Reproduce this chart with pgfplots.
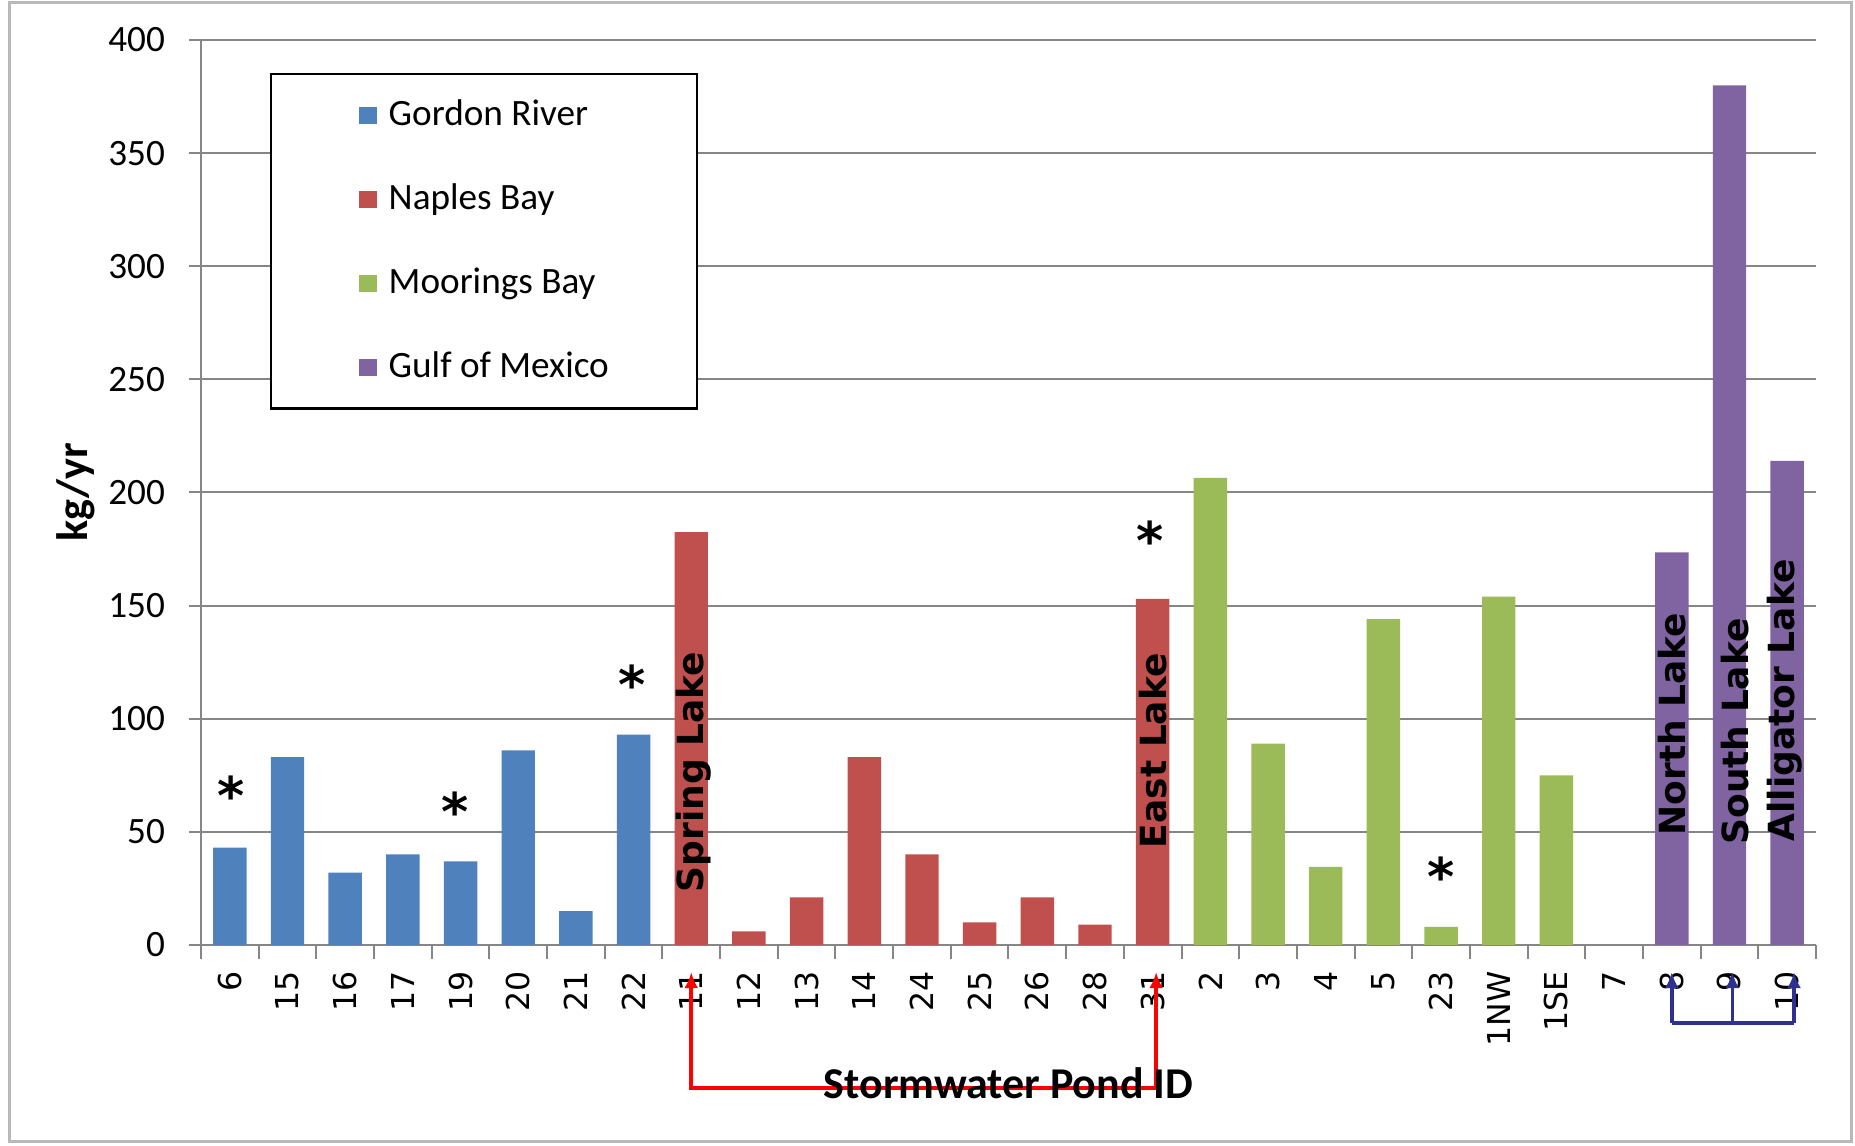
\documentclass[border=0pt]{standalone}
\usepackage{pgfplots}
\pgfplotsset{compat=1.18}
\usepackage{fontspec}
\setmainfont{Carlito}
\newfontfamily\dejavu{DejaVu Sans}
\usetikzlibrary{arrows.meta}
\definecolor{cblue}{HTML}{4F81BD}
\definecolor{cred}{HTML}{C0504D}
\definecolor{cgreen}{HTML}{9BBB59}
\definecolor{cpurple}{HTML}{8064A2}
\definecolor{arrblue}{HTML}{2E3192}
\definecolor{gridgray}{HTML}{868686}
\pgfplotsset{sqleg/.style={legend image code/.code={\fill[##1] (0pt,-2.2pt) rectangle (4.4pt,2.2pt);}}}
\begin{document}
\begin{tikzpicture}
\useasboundingbox (0,0) rectangle (463.75pt,286.5pt);
\draw[gray!55, line width=0.8pt] (2.4pt,1.1pt) rectangle (462.9pt,285.9pt);
\begin{axis}[
  at={(50.25pt,50.25pt)}, anchor=south west, scale only axis,
  width=403.75pt, height=226.25pt,
  xmin=-0.5, xmax=27.5, ymin=0, ymax=400,
  ytick={0,50,...,400},
  xtick={0,...,27},
  xticklabels={6,15,16,17,19,20,21,22,11,12,13,14,24,25,26,28,31,2,3,4,5,23,1NW,1SE,7,8,9,10},
  minor xtick={-0.5,0.5,...,27.5},
  axis lines*=left,
  axis line style={-, gridgray, line width=0.6pt},
  tick align=outside,
  major tick length=3pt, minor tick length=3.5pt,
  major x tick style={draw=none},
  minor x tick style={draw=gridgray, line width=0.5pt},
  major y tick style={draw=gridgray, line width=0.5pt},
  ymajorgrids, major grid style={gridgray, line width=0.5pt},
  /pgf/number format/assume math mode=true,
  yticklabel style={font=\fontsize{9.3}{10}\selectfont, xshift=-2.5pt},
  xticklabel style={font=\dejavu\fontsize{7.9}{9}\selectfont, rotate=90, anchor=east},
  ylabel={\textbf{kg/yr}},
  ylabel style={at={(axis description cs:-0.0774,0.5)}, anchor=center, font=\fontsize{11}{12}\selectfont},
  xlabel={\textbf{Stormwater Pond ID}},
  xlabel style={at={(axis description cs:0.5,-0.1523)}, anchor=center, font=\fontsize{11}{12}\selectfont},
  clip=false,
  legend cell align=left,
  legend style={at={(0.0427,0.9635)}, anchor=north west, draw=black, line width=0.6pt, fill=white,
    inner xsep=22pt, inner ysep=5.8pt, row sep=12pt, column sep=3pt,
    font=\fontsize{9.3}{10}\selectfont,
    nodes={inner sep=0pt, text height=7pt, text depth=2pt}},
]
\addplot[ybar, sqleg, bar width=0.58, bar shift=0pt, fill=cblue, draw=none]
  coordinates {(0,43) (1,83) (2,32) (3,40) (4,37) (5,86) (6,15) (7,93)};
\addlegendentry{Gordon River}
\addplot[ybar, sqleg, bar width=0.58, bar shift=0pt, fill=cred, draw=none]
  coordinates {(8,182.5) (9,6) (10,21) (11,83) (12,40) (13,10) (14,21) (15,9) (16,153)};
\addlegendentry{Naples Bay}
\addplot[ybar, sqleg, bar width=0.58, bar shift=0pt, fill=cgreen, draw=none]
  coordinates {(17,206.5) (18,89) (19,34.5) (20,144) (21,8) (22,154) (23,75)};
\addlegendentry{Moorings Bay}
\addplot[ybar, sqleg, bar width=0.58, bar shift=0pt, fill=cpurple, draw=none]
  coordinates {(25,173.5) (26,380) (27,214)};
\addlegendentry{Gulf of Mexico}

\tikzset{lakelbl/.style={rotate=90, anchor=west, inner sep=0pt, font=\dejavu\bfseries\fontsize{9}{10}\selectfont}}
\node[lakelbl] at (axis cs:8.05,23) {Spring Lake};
\node[lakelbl] at (axis cs:16,42.5) {East Lake};
\node[lakelbl] at (axis cs:25,48) {North Lake};
\node[lakelbl] at (axis cs:26.1,44) {South Lake};
\node[lakelbl] at (axis cs:26.95,45.5) {Alligator Lake};

\tikzset{ast/.style={anchor=north, inner sep=0pt, font=\dejavu\bfseries\fontsize{13}{13}\selectfont}}
\node[ast] at (axis cs:0.03,75) {*};
\node[ast] at (axis cs:3.9,68) {*};
\node[ast] at (axis cs:6.97,124) {*};
\node[ast] at (axis cs:15.95,188) {*};
\node[ast] at (axis cs:21,39.5) {*};

\draw[red, line width=0.9pt, {Latex[length=4pt,width=3.5pt]}-{Latex[length=4pt,width=3.5pt]}]
  (axis cs:8,-12) -- (axis cs:8,-63.3) -- (axis cs:16.06,-63.3) -- (axis cs:16.06,-12);
\draw[arrblue, line width=0.9pt] (axis cs:25,-34.5) -- (axis cs:27.12,-34.5);
\draw[arrblue, line width=0.9pt, -{Latex[length=4pt,width=3.5pt]}] (axis cs:25,-34.5) -- (axis cs:25,-12);
\draw[arrblue, line width=0.9pt, -{Latex[length=4pt,width=3.5pt]}] (axis cs:26.05,-34.5) -- (axis cs:26.05,-12);
\draw[arrblue, line width=0.9pt, -{Latex[length=4pt,width=3.5pt]}] (axis cs:27.12,-34.5) -- (axis cs:27.12,-12);
\end{axis}
\end{tikzpicture}
\end{document}
